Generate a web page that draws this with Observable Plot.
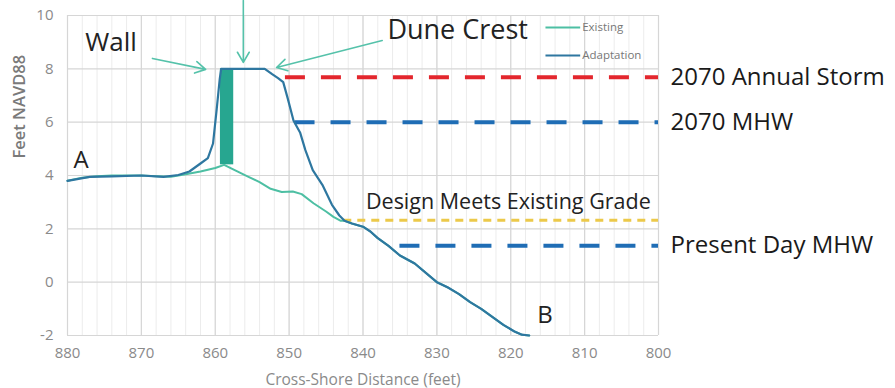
<!DOCTYPE html>
<html>
<head>
<meta charset="utf-8">
<script src="https://cdn.jsdelivr.net/npm/d3@7"></script>
<script src="https://cdn.jsdelivr.net/npm/@observablehq/plot@0.6"></script>
<style>
  html, body { margin: 0; padding: 0; background: #fff; }
  #chart svg { display: block; }
</style>
</head>
<body>
<div id="chart"></div>
<script>
// ---- data ----
const xTicks = [880, 870, 860, 850, 840, 830, 820, 810, 800];
const yTicks = [-2, 0, 2, 4, 6, 8, 10];
const xLabel = "Cross-Shore Distance (feet)";
const yLabel = "Feet NAVD88";

const existingX = [880, 878, 876, 874, 872, 870, 868, 866, 864, 862, 860, 858.8, 857.5, 855.5, 854, 852.5, 851, 849.5, 848.3, 846.7, 845, 844, 843];
const existingY = [3.8, 3.92, 3.97, 4.0, 4.0, 4.0, 3.97, 3.95, 4.05, 4.15, 4.28, 4.4, 4.22, 3.95, 3.75, 3.5, 3.38, 3.4, 3.3, 2.96, 2.65, 2.45, 2.3];

const adaptX = [880, 877, 874, 870, 867, 865, 863.5, 862, 861, 860.3, 859.8, 859.4, 859.2, 856, 853.3, 852.3, 851.5, 850.8, 850.2, 849.4, 848.5, 847.8, 846.8, 845.5, 844.2, 843.2];
const adaptY = [3.8, 3.95, 3.97, 4.0, 3.95, 4.02, 4.15, 4.45, 4.65, 5.2, 6.5, 7.6, 8.0, 8.0, 8.0, 7.8, 7.65, 7.5, 6.9, 6.05, 5.6, 4.95, 4.2, 3.65, 2.9, 2.5];

// segment where both profiles coincide
const sharedX = [842.5, 841.5, 840, 839, 838, 836.5, 835, 833, 831.5, 830, 828.5, 827, 825.5, 824, 822.5, 821, 819.5, 818.5, 817.5];
const sharedY = [2.3, 2.2, 2.08, 1.9, 1.65, 1.35, 1.0, 0.7, 0.35, 0.0, -0.2, -0.45, -0.75, -1.0, -1.3, -1.6, -1.85, -1.97, -2.0];

// wall
const wallX = [859.3, 857.5];
const wallY = [4.4, 8.0];

// reference levels
const levelNames = ["2070 Annual Storm", "2070 MHW", "Design Meets Existing Grade", "Present Day MHW"];
const levelY = [7.68, 6.0, 2.32, 1.37];
const levelStart = [850.5, 849.2, 842.6, 835.0];
const levelColor = ["#e3262d", "#1f6db5", "#ecc94a", "#1f6db5"];

// annotation texts
const noteText = ["Wall", "Dune Crest", "A", "B", "Design Meets Existing Grade"];
const noteX = [877.6, 836.7, 879.2, 816.4, 839.6];
const noteY = [8.99, 9.44, 4.57, -1.24, 3.0];
const noteSize = [26, 27, 24, 24, 21.5];

// arrows
const arrowX1 = [868.5, 856.2, 837.4];
const arrowY1 = [8.39, 10.56, 9.06];
const arrowX2 = [861.3, 856.2, 851.7];
const arrowY2 = [7.98, 8.24, 8.05];

// legend
const legendNames = ["Existing", "Adaptation"];
const legendColors = ["#4dbfa3", "#2e77a0"];
const legendY = [9.55, 8.5];
const legendX = [815.3, 810.6];

// ---- build tables ----
const existing = existingX.map((x, i) => ({x, y: existingY[i]})).concat(sharedX.map((x, i) => ({x, y: sharedY[i]})));
const adaptation = adaptX.map((x, i) => ({x, y: adaptY[i]})).concat(sharedX.map((x, i) => ({x, y: sharedY[i]})));
const levels = levelNames.map((name, i) => ({name, y: levelY[i], x1: levelStart[i], color: levelColor[i]}));
const notes = noteText.map((t, i) => ({t, x: noteX[i], y: noteY[i], s: noteSize[i]}));
const arrows = arrowX1.map((x1, i) => ({x1, y1: arrowY1[i], x2: arrowX2[i], y2: arrowY2[i]}));
const legend = legendNames.map((name, i) => ({name, color: legendColors[i], y: legendY[i]}));
const minorX = d3.range(800, 881, 2);

const font = "'Open Sans', 'Liberation Sans', sans-serif";
const dashFor = n => n === "Design Meets Existing Grade" ? "8,6" : "20,16";
const widthFor = n => n === "Design Meets Existing Grade" ? 3 : 4;

const plot = Plot.plot({
  width: 895,
  height: 388,
  marginLeft: 67,
  marginRight: 237,
  marginTop: 15,
  marginBottom: 53,
  style: {fontFamily: font, background: "#fff", overflow: "visible"},
  x: {domain: [880, 800]},
  y: {domain: [-2, 10]},
  marks: [
    Plot.ruleX(minorX, {stroke: "#ececec", strokeWidth: 1}),
    Plot.ruleX(xTicks, {stroke: "#d6d6d6", strokeWidth: 1.2}),
    Plot.ruleY(yTicks, {stroke: "#d6d6d6", strokeWidth: 1.2}),
    Plot.axisX({ticks: xTicks, tickSize: 0, tickPadding: 12, tickFormat: d => String(d), fontSize: 15, color: "#8a8a8a", label: null}),
    Plot.axisY({ticks: yTicks, tickSize: 0, tickPadding: 14, tickFormat: d => String(d), fontSize: 15, color: "#8a8a8a", label: null}),
    Plot.text([xLabel], {text: d => d, frameAnchor: "bottom", dy: 49, fontSize: 15.5, fill: "#8a8a8a"}),
    Plot.text([yLabel], {text: d => d, frameAnchor: "left", dx: -48, dy: -17, rotate: -90, fontSize: 16.5, fill: "#7a7a7a", fontWeight: 600}),
    ...levels.map(l => Plot.ruleY([l], {y: "y", x1: "x1", x2: 800, stroke: l.color, strokeWidth: widthFor(l.name), strokeDasharray: dashFor(l.name)})),
    Plot.rect([{x1: wallX[0], x2: wallX[1], y1: wallY[0], y2: wallY[1]}], {x1: "x1", x2: "x2", y1: "y1", y2: "y2", fill: "#27a690"}),
    Plot.line(existing, {x: "x", y: "y", stroke: "#4dbfa3", strokeWidth: 2}),
    Plot.line(adaptation, {x: "x", y: "y", stroke: "#2e77a0", strokeWidth: 2.2}),
    Plot.arrow(arrows, {x1: "x1", y1: "y1", x2: "x2", y2: "y2", stroke: "#55c2aa", strokeWidth: 1.6, headLength: 11}),
    ...notes.map(n => Plot.text([n], {x: "x", y: "y", text: "t", textAnchor: "start", fontSize: n.s, fill: "#222"})),
    Plot.text(levels.filter(l => l.name !== "Design Meets Existing Grade"), {x: 800, y: "y", text: "name", dx: 12, textAnchor: "start", fontSize: 24, fill: "#1a1a1a"}),
    Plot.link(legend, {x1: legendX[0], x2: legendX[1], y1: "y", y2: "y", stroke: "color", strokeWidth: 2}),
    Plot.text(legend, {x: legendX[1], y: "y", text: "name", dx: 2, textAnchor: "start", fontSize: 11.5, fill: "#777"})
  ]
});
document.getElementById("chart").appendChild(plot);
</script>
</body>
</html>
